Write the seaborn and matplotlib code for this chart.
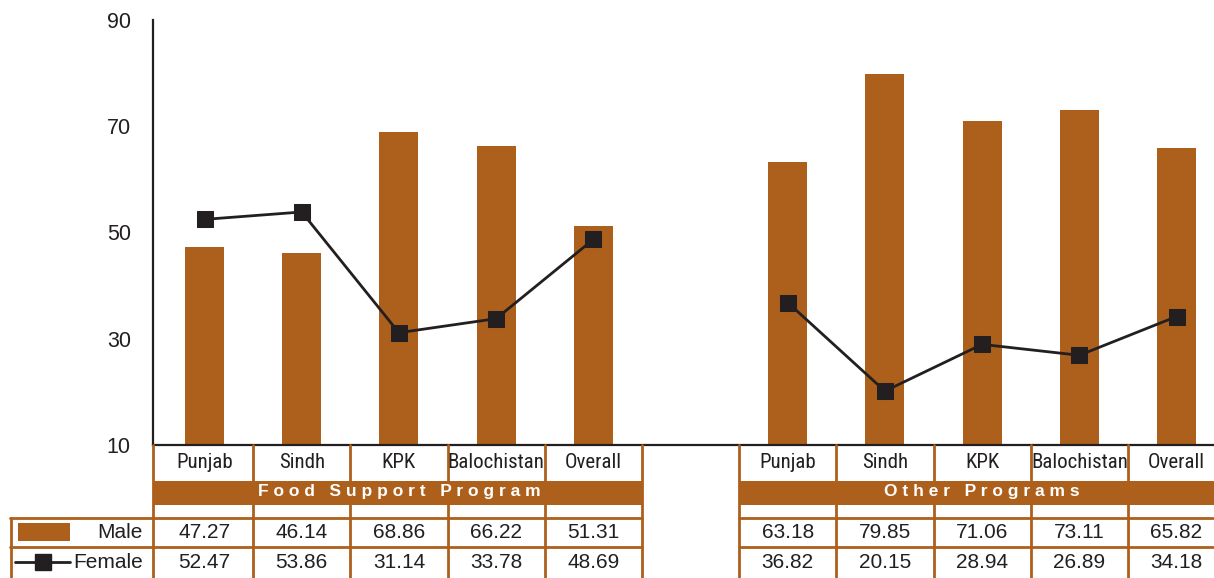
import matplotlib
matplotlib.use("Agg")
import matplotlib.pyplot as plt
import matplotlib.transforms as mtransforms
from matplotlib import font_manager
from matplotlib.lines import Line2D
from matplotlib.patches import Rectangle
import numpy as np
import pandas as pd
import seaborn as sns

# ---------------- data ----------------
regions = ["Punjab", "Sindh", "KPK", "Balochistan", "Overall"]
programs = ["Food Support Program", "Other Programs"]
male_food = [47.27, 46.14, 68.86, 66.22, 51.31]
female_food = [52.47, 53.86, 31.14, 33.78, 48.69]
male_other = [63.18, 79.85, 71.06, 73.11, 65.82]
female_other = [36.82, 20.15, 28.94, 26.89, 34.18]
y_ticks = [10, 30, 50, 70, 90]

# ---------------- style ----------------
sns.set_theme(style="white")
plt.rcParams["font.family"] = ["Liberation Sans", "DejaVu Sans"]
BROWN = "#AD601B"
DARK = "#231F20"

available = {f.name for f in font_manager.fontManager.ttflist}
narrow_candidates = ["Liberation Sans Narrow", "Roboto Condensed", "Open Sans Condensed",
                     "Noto Sans Condensed", "DejaVu Sans Condensed"]
NARROW = next((n for n in narrow_candidates if n in available), None)
if NARROW is None:
    NARROW_FAM, CAT_SIZE = ["Roboto", "Liberation Sans"], 14
else:
    NARROW_FAM, CAT_SIZE = [NARROW, "Liberation Sans"], 15

W, H = 1214, 578
fig = plt.figure(figsize=(W / 100, H / 100), dpi=100)
fig.patch.set_facecolor("white")

slot = 97.2
ax_left, ax_top, ax_bot = 153, 20, 445
XL = -0.53
ax = fig.add_axes([ax_left / W, 1 - ax_bot / H, 11 * slot / W, (ax_bot - ax_top) / H])

rows = []
for g, (prog, m, f) in enumerate([(programs[0], male_food, female_food),
                                   (programs[1], male_other, female_other)]):
    for i, r in enumerate(regions):
        rows.append({"program": prog, "region": r, "pos": g * 6 + i,
                     "male": m[i], "female": f[i]})
df = pd.DataFrame(rows)

sns.barplot(data=df, x="pos", y="male", native_scale=True, width=0.4,
            color=BROWN, saturation=1, edgecolor="none", ax=ax, zorder=2)
for prog in programs:
    sub = df[df["program"] == prog]
    sns.lineplot(data=sub, x="pos", y="female", ax=ax, color=DARK, lw=2,
                 marker="s", markersize=12, markeredgecolor=DARK,
                 markerfacecolor=DARK, zorder=3, legend=False)

ax.set_xlim(XL, XL + 11)
ax.set_ylim(10, 90)
ax.set_yticks(y_ticks)
ax.set_xticks([])
ax.set_xlabel("")
ax.set_ylabel("")
for s in ["top", "right"]:
    ax.spines[s].set_visible(False)
for s in ["left", "bottom"]:
    ax.spines[s].set_color(DARK)
    ax.spines[s].set_linewidth(1.6)
ax.tick_params(axis="y", which="major", direction="out", length=7, width=1.6,
               color=DARK, labelsize=15.5, labelcolor=DARK, pad=9)
ax.grid(False)

# ---------------- data table below ----------------
def fy(py):
    return 1 - py / H

def fx(px):
    return px / W

blend = mtransforms.blended_transform_factory(ax.transData, fig.transFigure)
lw_t = 2.0

y_axis = fy(445)
y_band_top, y_band_bot = fy(481), fy(505)
y_r1, y_r2, y_end = fy(518), fy(547), fy(578)

groups = [(-0.5, 4.5, programs[0]), (5.5, 10.5, programs[1])]

for x0, x1, prog in groups:
    x0d = XL if x0 < 0 else x0
    for b in np.arange(x0, x1 + 0.01, 1.0):
        bb = XL if b < 0 else b
        fig.add_artist(Line2D([bb, bb], [y_axis, y_end], transform=blend,
                              color=BROWN, lw=lw_t, clip_on=False, zorder=1))
    fig.add_artist(Rectangle((x0d, y_band_bot), x1 - x0d, y_band_top - y_band_bot,
                             transform=blend, facecolor=BROWN, edgecolor="none",
                             clip_on=False, zorder=2))
    spaced = "   ".join(" ".join(w) for w in prog.split(" "))
    fig.text((x0 + x1) / 2, (y_band_top + y_band_bot) / 2 + 0.002, spaced,
             transform=blend, color="white", fontsize=12.5, fontweight="bold",
             ha="center", va="center", zorder=3)
    for yy in (y_r1, y_r2):
        fig.add_artist(Line2D([x0d, x1], [yy, yy], transform=blend,
                              color=BROWN, lw=lw_t, clip_on=False, zorder=1))

for _, r in df.iterrows():
    c = r["pos"]
    fig.text(c, fy(463), r["region"], transform=blend, ha="center",
             va="center", fontsize=CAT_SIZE, color=DARK, family=NARROW_FAM)
    fig.text(c, fy(533), f"{r['male']:.2f}", transform=blend, ha="center",
             va="center", fontsize=15, color=DARK)
    fig.text(c, fy(562), f"{r['female']:.2f}", transform=blend, ha="center",
             va="center", fontsize=15, color=DARK)

# legend column (left)
for yy in (y_r1, y_r2):
    fig.add_artist(Line2D([fx(10), fx(153)], [yy, yy], color=BROWN, lw=lw_t,
                          transform=fig.transFigure, zorder=1))
fig.add_artist(Line2D([fx(11), fx(11)], [y_r1, y_end], color=BROWN, lw=lw_t,
                      transform=fig.transFigure, zorder=1))
fig.add_artist(Rectangle((fx(18), fy(541)), fx(70) - fx(18), fy(523) - fy(541),
                         transform=fig.transFigure, facecolor=BROWN,
                         edgecolor="none", zorder=2))
fig.text(fx(143), fy(533), "Male", ha="right", va="center", fontsize=15,
         color=DARK)
fig.add_artist(Line2D([fx(15), fx(70)], [fy(562), fy(562)], color=DARK, lw=2,
                      transform=fig.transFigure, zorder=2))
fig.add_artist(Line2D([fx(43)], [fy(562)], color=DARK, marker="s",
                      markersize=12, transform=fig.transFigure, zorder=3))
fig.text(fx(143), fy(562), "Female", ha="right", va="center", fontsize=15,
         color=DARK)

fig.savefig("out.png", dpi=100, facecolor="white")
